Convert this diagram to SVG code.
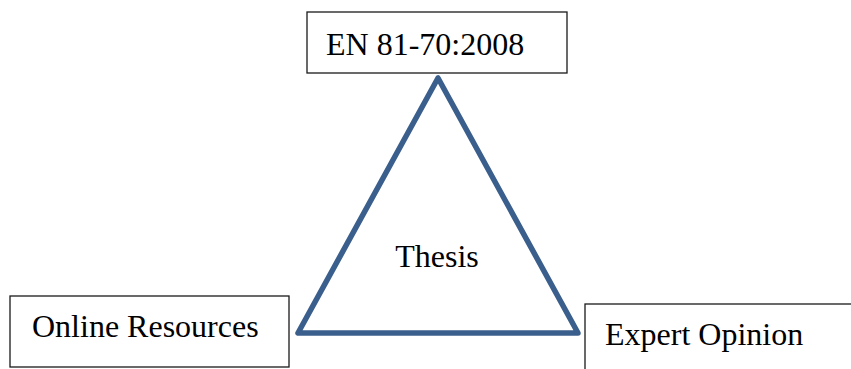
<svg xmlns="http://www.w3.org/2000/svg" width="851" height="369" viewBox="0 0 851 369">
<style>
.box{fill:#fff;stroke:#1a1a1a;stroke-width:1.3}
.lbl{font-family:"Liberation Serif","Times New Roman",serif;font-size:32px;fill:#000}
.tri{fill:none;stroke:#3B5F8C;stroke-width:5.5;stroke-linejoin:round}
</style>
<rect width="851" height="369" fill="#fff"/>
<g id="connectors">
<polygon class="tri" points="438,78 298,333 578,333"/>
</g>
<g id="thesis">
<text class="lbl" x="437" y="267" text-anchor="middle">Thesis</text>
</g>
<g id="en8170">
<rect class="box" x="307" y="12" width="260" height="61"/>
<text class="lbl" x="326" y="55">EN 81-70:2008</text>
</g>
<g id="online">
<rect class="box" x="10" y="296" width="279" height="71"/>
<text class="lbl" x="32" y="337">Online Resources</text>
</g>
<g id="expert">
<rect class="box" x="585" y="304" width="290" height="80"/>
<text class="lbl" x="605" y="345">Expert Opinion</text>
</g>
</svg>
